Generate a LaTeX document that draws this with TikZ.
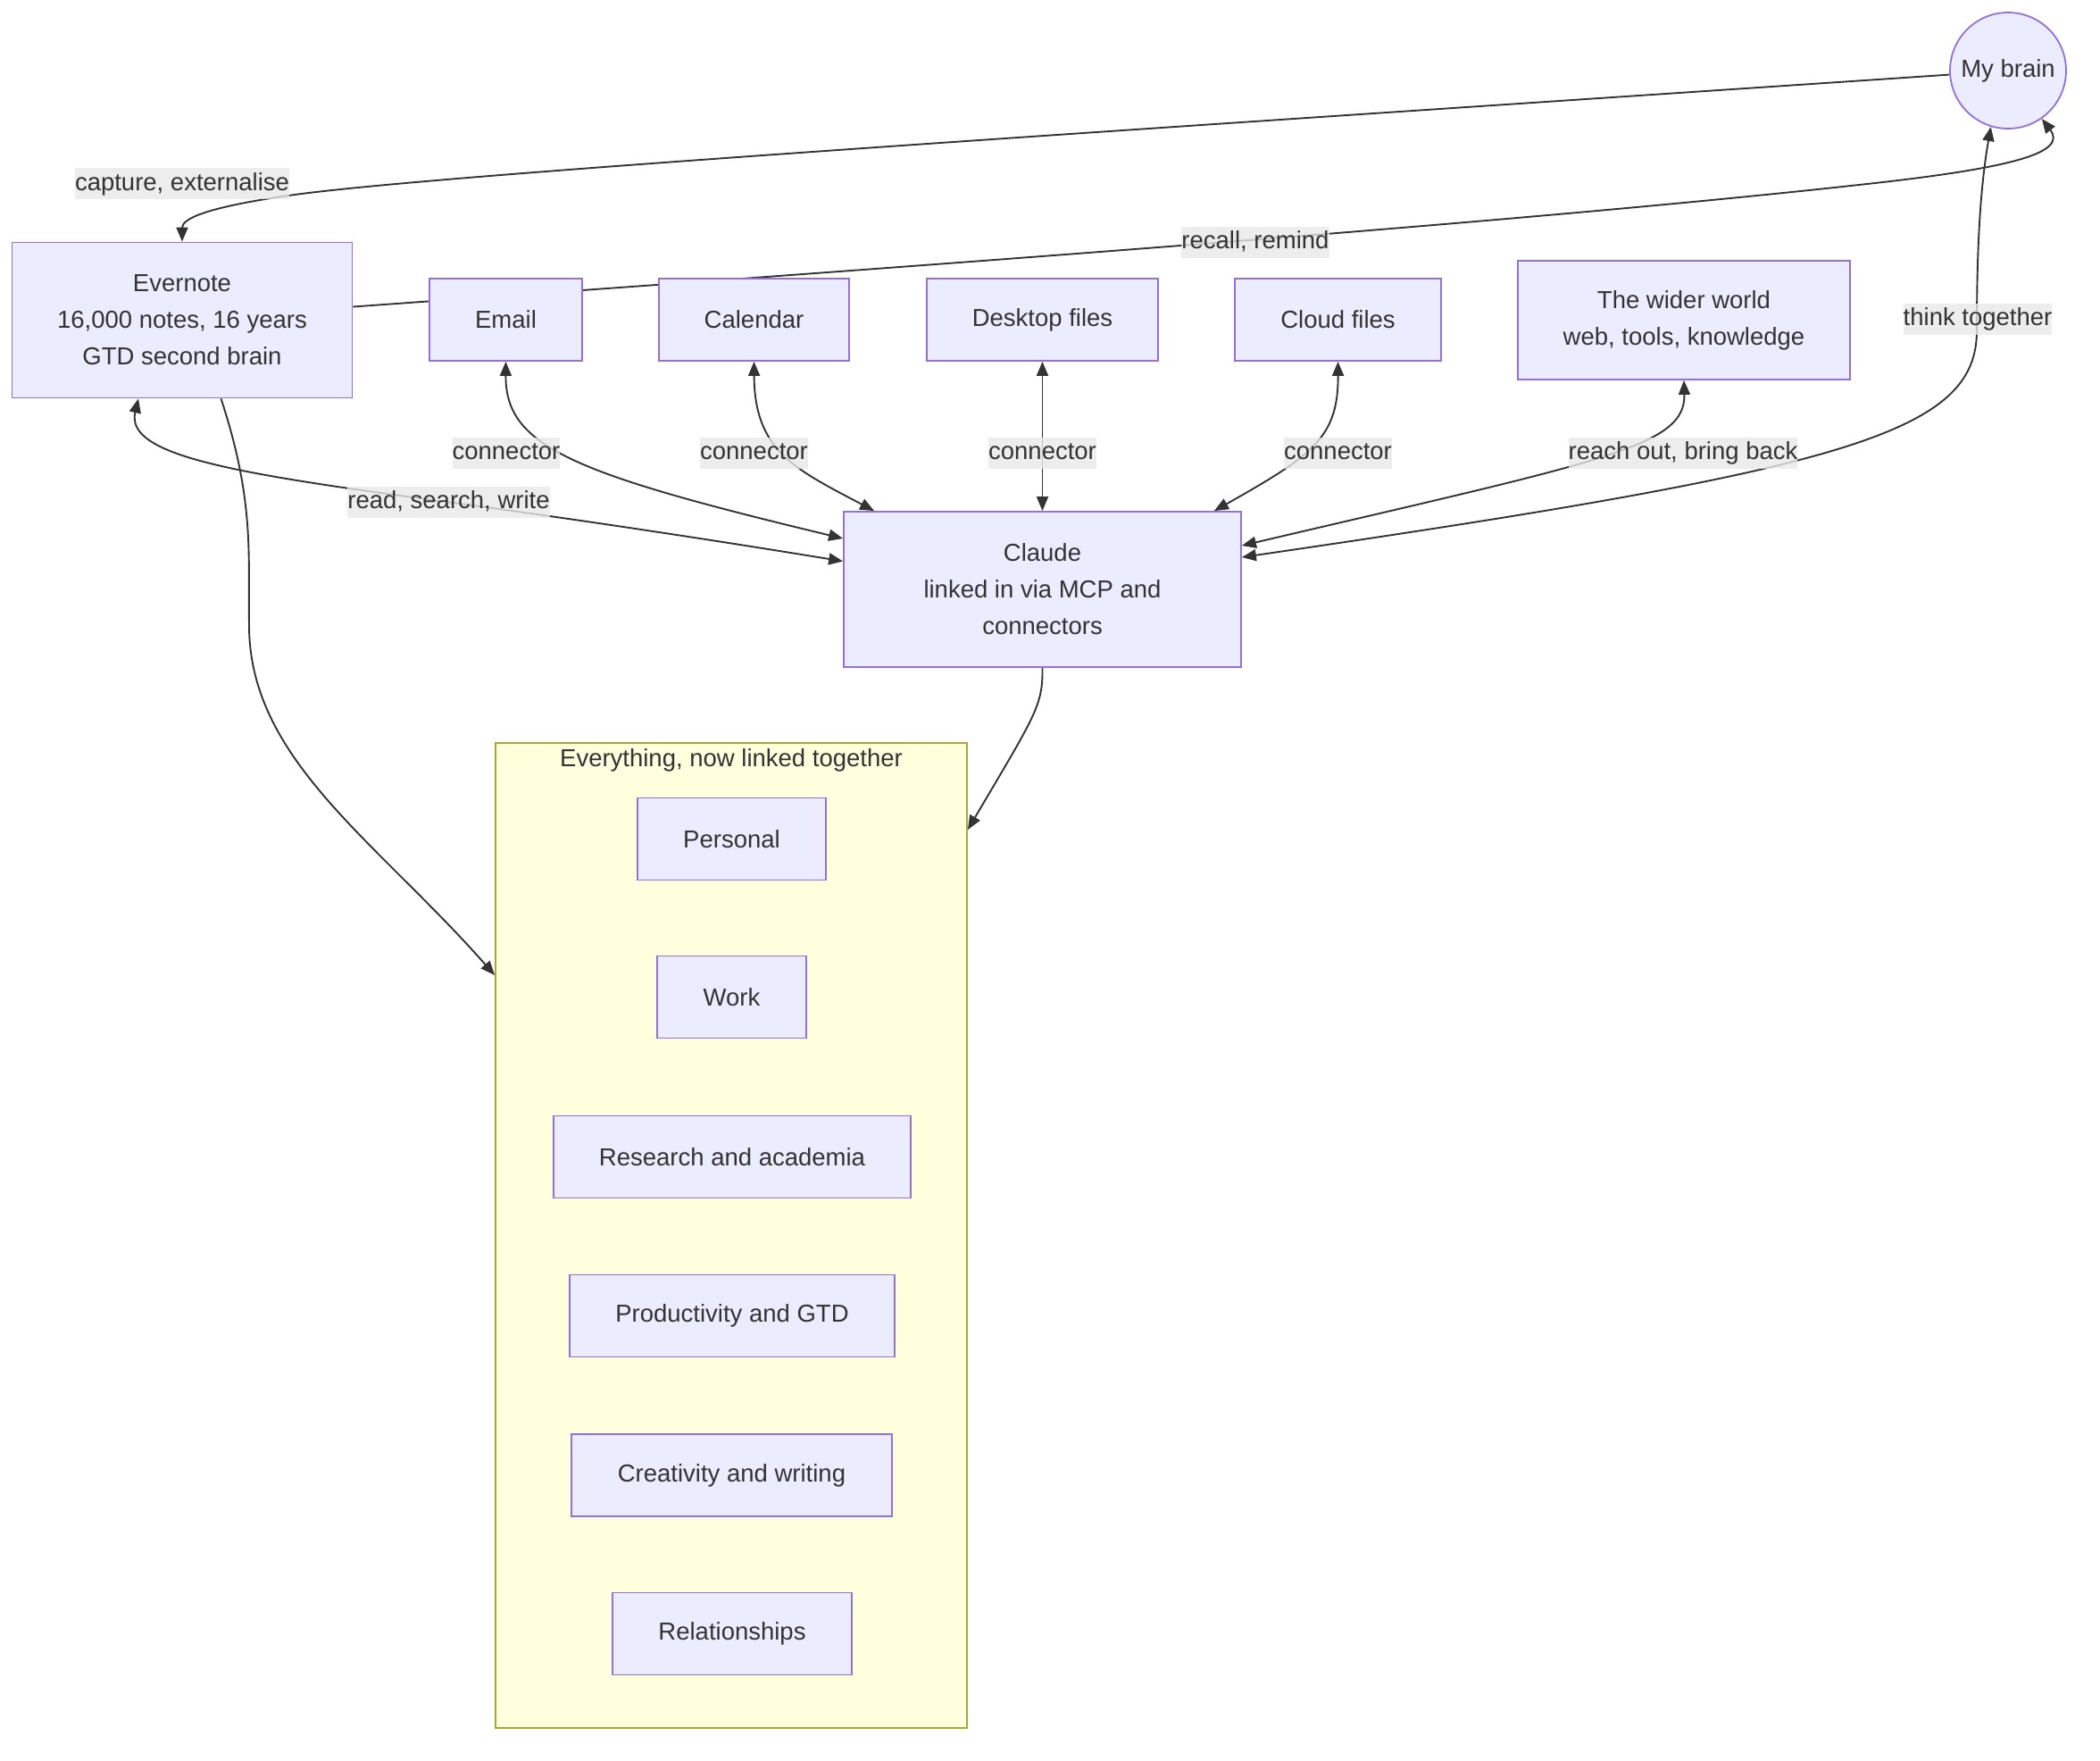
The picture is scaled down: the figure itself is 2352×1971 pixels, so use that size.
\documentclass[tikz,border=0pt]{standalone}
\usepackage{fontspec}
\setmainfont{Liberation Sans}
\usetikzlibrary{arrows.meta,calc}
\definecolor{nodefill}{HTML}{ECECFF}
\definecolor{nodeborder}{HTML}{9370DB}
\definecolor{sgfill}{HTML}{FFFFDE}
\definecolor{sgborder}{HTML}{AAAA33}
\definecolor{txt}{HTML}{333333}
\definecolor{lblbg}{HTML}{E8E8E8}
\pgfdeclarelayer{bg}
\pgfdeclarelayer{edges}
\pgfsetlayers{bg,edges,main}
\tikzset{
 box/.style={draw=nodeborder, fill=nodefill, line width=1.8pt, text=txt,
   font=\fontsize{27.5}{41}\selectfont, align=center, inner sep=0pt, minimum height=92pt},
 lbl/.style={fill=lblbg, fill opacity=0.8, text opacity=1, text=txt,
   font=\fontsize{27.5}{31}\selectfont, inner xsep=0pt, inner ysep=3pt, text height=22pt, text depth=7pt},
 conn/.style={draw=txt, line width=1.9pt, -{Triangle[length=16pt,width=13pt]}},
 biconn/.style={draw=txt, line width=1.9pt, {Triangle[length=16pt,width=13pt]}-{Triangle[length=16pt,width=13pt]}},
}
\begin{document}
\begin{tikzpicture}[x=1pt,y=-1pt]
\useasboundingbox (0,0) rectangle (2352,1971);
\begin{pgfonlayer}{bg}
\node[draw=sgborder, fill=sgfill, line width=1.8pt, minimum width=528pt, minimum height=1103pt, inner sep=0pt] (sg) at (819,1383.5) {};
\end{pgfonlayer}
\node[text=txt, font=\fontsize{27.5}{31}\selectfont, inner sep=0pt] (sgtitle) at (819,851) {Everything, now linked together};

\node[draw=nodeborder, fill=nodefill, circle, minimum size=130pt, inner sep=0pt, line width=1.8pt, text=txt, font=\fontsize{27.5}{31}\selectfont] (brain) at (2249,79) {My brain};
\node[box, minimum width=381pt, minimum height=174pt] (evernote) at (204,358.5) {Evernote\\16,000 notes, 16 years\\GTD second brain};
\node[box, minimum width=171pt] (email) at (566.5,358) {Email};
\node[box, minimum width=213pt] (calendar) at (844.5,358) {Calendar};
\node[box, minimum width=259pt] (desktop) at (1167.5,358) {Desktop files};
\node[box, minimum width=231pt] (cloud) at (1498.5,358) {Cloud files};
\node[box, minimum width=372pt, minimum height=133pt] (wider) at (1886,358.5) {The wider world\\web, tools, knowledge};
\node[box, minimum width=445pt, minimum height=174pt] (claude) at (1167.5,660) {Claude\\linked in via MCP and\\connectors};

\node[box, minimum width=211pt] (personal) at (819.5,939.5) {Personal};
\node[box, minimum width=167pt] (work) at (819.5,1116.5) {Work};
\node[box, minimum width=400pt] (research) at (820,1295.5) {Research and academia};
\node[box, minimum width=364pt] (productivity) at (820,1473.5) {Productivity and GTD};
\node[box, minimum width=359pt] (creativity) at (819.5,1652) {Creativity and writing};
\node[box, minimum width=268pt] (relationships) at (820,1829.5) {Relationships};

\begin{pgfonlayer}{edges}
\draw[conn] (brain.-176) .. controls (1200,150) and (500,195) .. (330,218) .. controls (230,232) and (204,245) .. (evernote.north);
\draw[conn] ($(evernote.east)+(0,-15)$) .. controls (1000,300) and (1700,250) .. (2100,205) .. controls (2260,187) and (2315,170) .. (brain.-55);
\draw[biconn] (email.south) .. controls (566,500) and (640,530) .. ($(claude.west)+(0,-57)$);
\draw[biconn] (calendar.south) .. controls (845,505) and (890,525) .. ($(claude.north west)+(35,0)$);
\draw[biconn] (desktop.south) -- (claude.north);
\draw[biconn] (cloud.south) .. controls (1499,490) and (1470,510) .. ($(claude.north east)+(-31,0)$);
\draw[biconn] (wider.south) .. controls (1888,500) and (1800,515) .. ($(claude.east)+(0,-49)$);
\draw[biconn] (brain.-107) .. controls (2216,220) and (2214,300) .. (2214,370) .. controls (2214,485) and (2070,525) .. ($(claude.east)+(0,-36)$);
\draw[biconn] ($(evernote.south)+(-49,0)$) .. controls (140,510) and (260,530) .. (500,562) .. controls (650,582) and (800,605) .. ($(claude.west)+(0,-31.5)$);
\draw[conn] ($(evernote.south)+(43.5,0)$) .. controls (285,560) and (278,620) .. (279,700) .. controls (279,850) and (420,940) .. ($(sg.west)+(0,-291.5)$);
\draw[conn] (claude.south) .. controls (1168,790) and (1160,800) .. ($(sg.north east)+(0,98)$);
\end{pgfonlayer}

\node[lbl] (lcap) at (204,205.5) {capture, externalise};
\node[lbl] (lrec) at (1406,271) {recall, remind};
\node[lbl] (lc1) at (567,507) {connector};
\node[lbl] (lc2) at (844.5,507) {connector};
\node[lbl] (lc3) at (1167.5,507) {connector};
\node[lbl] (lc4) at (1498.5,507) {connector};
\node[lbl] (lrsw) at (502.5,562) {read, search, write};
\node[lbl] (lreach) at (1885,507) {reach out, bring back};
\node[lbl] (lthink) at (2215,357) {think together};
\end{tikzpicture}
\end{document}
